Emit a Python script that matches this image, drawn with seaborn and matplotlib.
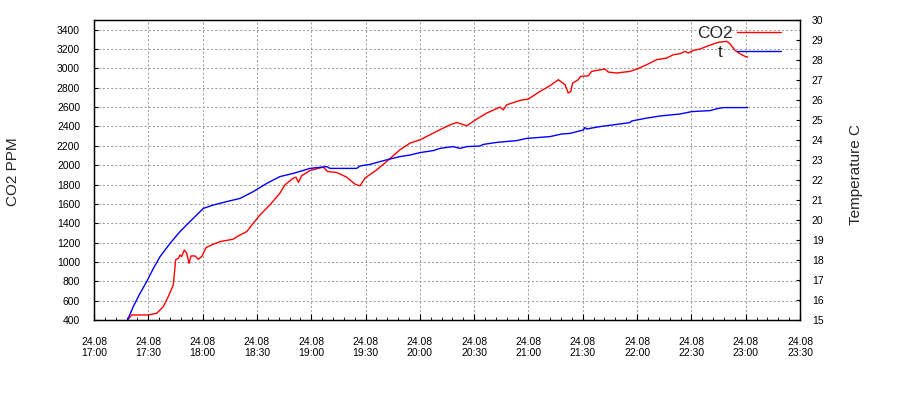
import matplotlib
matplotlib.use("Agg")
import matplotlib.pyplot as plt
from matplotlib.ticker import MultipleLocator
from matplotlib.lines import Line2D
import numpy as np
import pandas as pd
import seaborn as sns

# ---- data (minutes after 17:00 on 24.08) ----
co2_minutes = [18.5, 20.8, 30.0, 34.6, 38.3, 41.0, 43.8, 45.1, 46.6, 47.5, 48.4, 49.9, 51.2, 52.5,
               53.6, 55.8, 57.6, 59.5, 61.9, 65.0, 69.6, 76.9, 79.7, 84.4, 88.0, 91.7, 97.2, 102.7,
               105.5, 110.1, 111.6, 112.9, 114.7, 119.3, 126.7, 128.9, 134.1, 139.6, 144.2, 146.9,
               149.7, 151.5, 156.2, 161.7, 169.0, 174.6, 180.1, 185.6, 191.1, 196.7, 200.4, 205.9,
               211.4, 216.9, 224.3, 226.1, 228.0, 235.3, 239.9, 246.4, 251.9, 256.5, 260.2, 262.0,
               263.4, 264.4, 267.5, 268.8, 273.1, 274.9, 277.7, 282.3, 284.1, 288.7, 296.1, 299.8,
               305.3, 310.8, 316.4, 320.0, 323.7, 326.5, 328.3, 331.1, 334.8, 338.5, 342.1, 344.9,
               349.5, 351.3, 354.1, 356.8, 359.6, 361.1]
co2_ppm = [400, 452, 452, 469, 538, 641, 762, 1021, 1038, 1072, 1055, 1124, 1090, 986,
           1062, 1062, 1028, 1055, 1148, 1176, 1210, 1235, 1269, 1314, 1400, 1486, 1590, 1711,
           1797, 1866, 1876, 1821, 1890, 1945, 1980, 1935, 1924, 1876, 1804, 1786,
           1866, 1890, 1952, 2038, 2159, 2228, 2262, 2314, 2366, 2417, 2441, 2407,
           2476, 2538, 2600, 2572, 2624, 2669, 2683, 2762, 2821, 2883, 2831, 2745,
           2760, 2848, 2883, 2917, 2924, 2969, 2979, 2993, 2962, 2952, 2969, 2993,
           3038, 3090, 3107, 3141, 3152, 3176, 3159, 3186, 3200, 3228, 3252, 3269,
           3280, 3255, 3186, 3152, 3124, 3117]

temp_minutes = [18.5, 21.7, 25.4, 29.1, 32.8, 36.5, 42.0, 47.5, 53.0, 60.4, 65.9, 73.3, 80.7,
                88.0, 95.4, 102.7, 110.1, 119.3, 128.5, 130.4, 145.1, 146.9, 152.5, 158.0,
                163.5, 169.0, 174.6, 180.1, 187.4, 191.1, 198.3, 202.2, 205.9, 213.2, 215.1,
                222.5, 233.5, 239.0, 251.9, 258.3, 262.9, 270.3, 271.2, 272.1, 279.5, 288.7,
                296.1, 297.0, 304.4, 312.7, 323.7, 330.2, 340.3, 344.9, 347.7, 361.1]
temp_c = [15.0, 15.67, 16.33, 16.92, 17.58, 18.17, 18.83, 19.42, 19.92, 20.58, 20.75, 20.92, 21.08,
          21.42, 21.83, 22.17, 22.33, 22.58, 22.67, 22.58, 22.58, 22.7, 22.78, 22.92,
          23.05, 23.17, 23.25, 23.37, 23.47, 23.58, 23.67, 23.58, 23.67, 23.7, 23.78,
          23.88, 23.97, 24.08, 24.17, 24.3, 24.33, 24.5, 24.63, 24.55, 24.67, 24.78,
          24.87, 24.95, 25.08, 25.2, 25.3, 25.42, 25.47, 25.58, 25.62, 25.62]

x_tick_minutes = [0, 30, 60, 90, 120, 150, 180, 210, 240, 270, 300, 330, 360, 390]
x_tick_labels = ["24.08\n17:00", "24.08\n17:30", "24.08\n18:00", "24.08\n18:30", "24.08\n19:00",
                 "24.08\n19:30", "24.08\n20:00", "24.08\n20:30", "24.08\n21:00", "24.08\n21:30",
                 "24.08\n22:00", "24.08\n22:30", "24.08\n23:00", "24.08\n23:30"]
co2_ticks = list(range(400, 3401, 200))
temp_ticks = list(range(15, 31))

legend_labels = ["CO2", "t  "]
left_label = "CO2 PPM"
right_label = "Temperature C"

# ---- style ----
sns.set_style("ticks")
plt.rcParams["font.family"] = ["Liberation Sans", "DejaVu Sans"]

co2_df = pd.DataFrame({"minutes": co2_minutes, "ppm": co2_ppm})
t_df = pd.DataFrame({"minutes": temp_minutes, "temp": temp_c})

fig = plt.figure(figsize=(9, 4), dpi=100)
ax = fig.add_axes([94 / 900, 80 / 400, 706 / 900, 300 / 400])
ax2 = ax.twinx()

sns.lineplot(data=co2_df, x="minutes", y="ppm", ax=ax, color="#ff0000", linewidth=1.0,
             estimator=None, sort=False)
sns.lineplot(data=t_df, x="minutes", y="temp", ax=ax2, color="#0000ff", linewidth=1.0,
             estimator=None, sort=False)

ax.set_xlim(0, 390)
ax.set_ylim(400, 3500)
ax.set_yticks(co2_ticks)
ax2.set_ylim(15, 30)
ax2.set_yticks(temp_ticks)

ax.set_xticks(x_tick_minutes)
ax.set_xticklabels(x_tick_labels)
ax.xaxis.set_minor_locator(MultipleLocator(6))

for a in (ax, ax2):
    a.set_xlabel("")
    a.set_ylabel("")
    for s in a.spines.values():
        s.set_visible(True)
        s.set_color("black")
        s.set_linewidth(0.9)

ax.grid(True, which="major", axis="both", color="#a0a0a0", linestyle=(0, (2, 2)), linewidth=0.75)
ax.tick_params(axis="x", which="major", direction="in", length=4, pad=12, labelsize=7.5, colors="black")
ax.tick_params(axis="x", which="minor", direction="in", length=2.5, color="black")
ax.tick_params(axis="y", direction="in", length=3, pad=10, labelsize=7.5, colors="black")
ax2.tick_params(axis="y", direction="in", length=3, pad=8.5, labelsize=7.5, colors="black")

handles = [Line2D([], [], color="#ff0000", linewidth=1.0), Line2D([], [], color="#0000ff", linewidth=1.0)]
ax2.legend(handles, legend_labels, loc="upper right", bbox_to_anchor=(781 / 900, 1 - 26 / 400),
           bbox_transform=fig.transFigure, frameon=False, markerfirst=False, fontsize=12.5,
           handlelength=2.55, handletextpad=0.25, labelspacing=0.22, borderpad=0, borderaxespad=0)

fig.text(13 / 900, 1 - 172 / 400, left_label, rotation=90, ha="center", va="center", fontsize=11)
fig.text(856 / 900, 1 - 174 / 400, right_label, rotation=90, ha="center", va="center", fontsize=11)

fig.savefig("out.png", dpi=100)
